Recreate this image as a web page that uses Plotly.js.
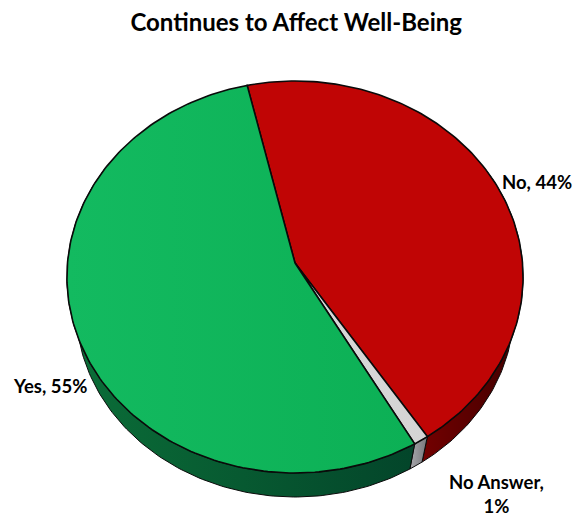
<!DOCTYPE html>
<html>
<head>
<meta charset="utf-8">
<script src="https://cdn.plot.ly/plotly-3.0.1.min.js"></script>
<style>html,body{margin:0;padding:0;background:#fff}#c{width:574px;height:518px}</style>
</head>
<body>
<div id="c"></div>
<script>
// Data, clockwise from the first slice
var categories = ["No", "No Answer", "Yes"];
var shares = [44.4, 1, 54.6];
var labels = ["No, 44%", "No Answer,<br>1%", "Yes, 55%"];
var topColors = ["#c00505", "#d4d4d4", "#0cb055"];
var topColorsLight = ["#c00505", "#d9d9d9", "#13ba60"];
var wallDark = ["#3f0000", "#77777b", "#03452a"];
var wallLight = ["#730000", "#a8a8ac", "#0b6e38"];
var chartTitle = "Continues to Affect Well-Being";

// View of the tilted disc
var startDeg = -13.0, A = 227.5, B = 195, T = 0.0714, CX = 295, CY = 263;
var RIM_SCALE = 0.96, RIM_BOTTOM = 497, TOP_BOTTOM = 473;

function project(deg, r) {
  var a = deg * Math.PI / 180, u = r * Math.sin(a), v = -r * Math.cos(a), w = 1 - T * v;
  return [CX + A * u / w, CY + B * v / w];
}
function lowerRim(p) {
  return [CX + (p[0] - CX) * RIM_SCALE, RIM_BOTTOM - RIM_SCALE * (TOP_BOTTOM - p[1])];
}
function arc(a0, a1, lower) {
  var pts = [], n = Math.max(2, Math.ceil(Math.abs(a1 - a0)));
  for (var i = 0; i <= n; i++) {
    var p = project(a0 + (a1 - a0) * i / n, 1);
    pts.push(lower ? lowerRim(p) : p);
  }
  return pts;
}
var traces = [], total = shares.reduce(function (s, v) { return s + v; }, 0), ang = startDeg, spans = [];
shares.forEach(function (v, i) { var e = ang + v / total * 360; spans.push([ang, e]); ang = e; });

function poly(pts, color, grad, lineW, name) {
  var t = {
    type: "scatter", mode: "lines", name: name, hoverinfo: "name",
    x: pts.map(function (p) { return p[0]; }), y: pts.map(function (p) { return p[1]; }),
    fill: "toself", fillcolor: color,
    line: { color: "#0a0a0a", width: lineW }
  };
  if (grad) t.fillgradient = grad;
  return t;
}
// Walls first, then the top face
spans.forEach(function (s, i) {
  var lo = Math.max(s[0], 60), hi = Math.min(s[1], 300);
  if (hi <= lo) return;
  var pts = arc(lo, hi, true).concat(arc(hi, lo, false));
  pts.push(pts[0]);
  traces.push(poly(pts, wallDark[i], {
    type: "horizontal",
    colorscale: [[0, wallLight[i]], [1, wallDark[i]]]
  }, 1, categories[i] + " side"));
});
spans.forEach(function (s, i) {
  var pts = [project(0, 0)].concat(arc(s[0], s[1], false));
  pts.push(pts[0]);
  traces.push(poly(pts, topColors[i], {
    type: "horizontal",
    colorscale: [[0, topColorsLight[i]], [1, topColors[i]]]
  }, 1.6, categories[i]));
});

var layout = {
  width: 574, height: 518, showlegend: false,
  margin: { l: 0, r: 0, t: 0, b: 0 },
  paper_bgcolor: "#fff", plot_bgcolor: "#fff",
  title: { text: "<b>" + chartTitle + "</b>", x: 0.516, xanchor: "center", y: 0.957, yanchor: "middle",
           font: { family: "Lato, Carlito, sans-serif", size: 24, color: "#000" } },
  xaxis: { range: [0, 574], visible: false, fixedrange: true },
  yaxis: { range: [518, 0], visible: false, fixedrange: true },
  annotations: [
    { x: 537, y: 182, text: "<b>" + labels[0] + "</b>" },
    { x: 496, y: 494, text: "<b>" + labels[1] + "</b>" },
    { x: 49.5, y: 386, text: "<b>" + labels[2] + "</b>" }
  ].map(function (a) {
    a.showarrow = false; a.xref = "x"; a.yref = "y";
    a.font = { family: "Lato, Carlito, sans-serif", size: 18.5, color: "#000" };
    a.align = "center";
    return a;
  })
};
Plotly.newPlot("c", traces, layout, { displayModeBar: false, staticPlot: true });
</script>
</body>
</html>
